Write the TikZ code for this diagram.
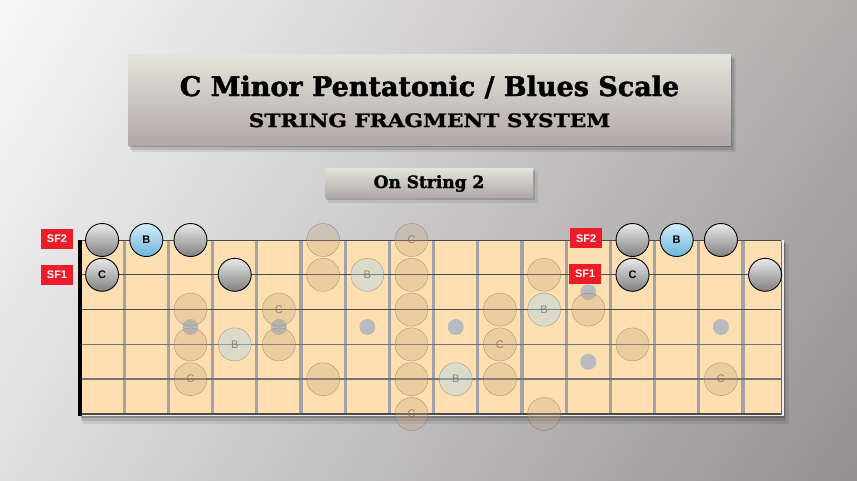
\documentclass[tikz,border=0pt]{standalone}
\usepackage{fontspec}
\setmainfont{DejaVu Serif}
\newfontfamily\headfont[FakeBold=1.6]{DejaVu Serif}
\newfontfamily\widefont[FakeStretch=1.17, FakeBold=1.4]{DejaVu Serif}
\newfontfamily\notefont{Liberation Sans}
\usetikzlibrary{shadings}

\definecolor{bgul}{RGB}{248,248,248}
\definecolor{bgur}{RGB}{177,173,173}
\definecolor{bgll}{RGB}{223,223,223}
\definecolor{bglr}{RGB}{148,144,145}
\definecolor{wood}{RGB}{254,223,177}
\definecolor{fretgray}{RGB}{163,163,167}
\definecolor{strdark}{RGB}{75,75,75}
\definecolor{strlight}{RGB}{115,115,115}
\definecolor{tagred}{RGB}{236,28,40}
\definecolor{boxtop}{RGB}{227,229,217}
\definecolor{boxbot}{RGB}{178,167,169}
\definecolor{ghostfill}{RGB}{196,164,124}
\definecolor{ghostline}{RGB}{110,95,80}
\definecolor{ghosttext}{RGB}{120,110,100}
\definecolor{ghostblue}{RGB}{170,215,240}
\definecolor{dotgray}{RGB}{184,186,190}
\definecolor{balltop}{RGB}{234,234,234}
\definecolor{ballbot}{RGB}{128,128,128}
\definecolor{bluetop}{RGB}{212,238,250}
\definecolor{bluebot}{RGB}{108,180,218}

\tikzset{
  note/.style={circle, minimum size=33pt, inner sep=0pt, draw=black, line width=0.9pt,
    top color=balltop, bottom color=ballbot, font=\notefont\bfseries\fontsize{11}{11}\selectfont},
  bluenote/.style={note, top color=bluetop, bottom color=bluebot},
  ghost/.style={circle, minimum size=33pt, inner sep=0pt, draw=ghostline, draw opacity=.55,
    fill=ghostfill, fill opacity=.3, text opacity=.8, text=ghosttext,
    font=\notefont\fontsize{11}{11}\selectfont},
  ghostb/.style={ghost, fill=ghostblue, fill opacity=.4},
  inlay/.style={circle, minimum size=16pt, inner sep=0pt, fill=dotgray},
  sftag/.style={fill=tagred, text=white, minimum width=32pt, minimum height=20pt, inner sep=0pt,
    font=\notefont\bfseries\fontsize{11}{11}\selectfont},
  fret/.style={fretgray, line width=3.3pt},
  headbox/.style={top color=boxtop, bottom color=boxbot}
}

\begin{document}
\begin{tikzpicture}[x=1pt, y=-1pt]
  % background
  \shade[upper left=bgul, upper right=bgur, lower left=bgll, lower right=bglr]
    (0,0) rectangle (857,480);
  \useasboundingbox (0,0) rectangle (857,480);

  % title
  \fill[black, opacity=.08] (132,59) rectangle (736,152);
  \fill[black, opacity=.12] (130,57) rectangle (734,150);
  \fill[black, opacity=.2] (129,56) rectangle (732,147);
  \shade[headbox] (128,54) rectangle (731,145);
  \node[anchor=base, font=\headfont\bfseries\fontsize{27}{27}\selectfont] (title) at (429.5,96) {C Minor Pentatonic / Blues Scale};
  \node[anchor=base, font=\widefont\bfseries\fontsize{18.5}{18.5}\selectfont] (system) at (429.5,127) {STRING FRAGMENT SYSTEM};

  % subtitle
  \fill[black, opacity=.08] (328,172) rectangle (538,203);
  \fill[black, opacity=.15] (326,170) rectangle (535,200);
  \shade[headbox] (325,168) rectangle (533,197);
  \node[anchor=base, font=\headfont\bfseries\fontsize{17}{17}\selectfont] (onstring) at (429,188) {On String 2};

  \begin{scope}[shift={(80,240)}, x=44.2pt, y=-34.8pt]
    % board and shadow
    \fill[black, opacity=.08] (0.05,0.12) rectangle (16.03,5.3);
    \fill[black, opacity=.12] (0.03,0.08) rectangle (15.98,5.2);
    \fill[black, opacity=.2] (0.02,0.05) rectangle (15.94,5.11);
    \fill[wood] (0,0) rectangle (15.86,5);
    \draw[white!85!gray, line width=1.5pt] (0,5.05) -- (15.9,5.05) -- (15.9,0);

    % frets
    \draw[fret] (1,0) -- (1,5);
    \draw[fret] (2,0) -- (2,5);
    \draw[fret] (3,0) -- (3,5);
    \draw[fret] (4,0) -- (4,5);
    \draw[fret] (5,0) -- (5,5);
    \draw[fret] (6,0) -- (6,5);
    \draw[fret] (7,0) -- (7,5);
    \draw[fret] (8,0) -- (8,5);
    \draw[fret] (9,0) -- (9,5);
    \draw[fret] (10,0) -- (10,5);
    \draw[fret] (11,0) -- (11,5);
    \draw[fret] (12,0) -- (12,5);
    \draw[fret] (13,0) -- (13,5);
    \draw[fret] (14,0) -- (14,5);
    \draw[fret] (15,0) -- (15,5);

    % strings
    \draw[strdark, line width=0.9pt] (0,0) -- (15.86,0);
    \draw[strdark, line width=1pt] (0,1) -- (15.86,1);
    \draw[strdark, line width=1.3pt] (0,2) -- (15.86,2);
    \draw[strlight, line width=1.8pt] (0,3) -- (15.86,3);
    \draw[strlight, line width=2pt] (0,4) -- (15.86,4);
    \draw[strdark, line width=1.4pt] (0,5) -- (15.86,5);
    \draw[black, line width=4pt] (0,0) -- (0,5.05);

    % inlays
    \node[inlay] (dot3) at (2.5,2.5) {};
    \node[inlay] (dot5) at (4.5,2.5) {};
    \node[inlay] (dot7) at (6.5,2.5) {};
    \node[inlay] (dot9) at (8.5,2.5) {};
    \node[inlay] (dot12a) at (11.5,1.5) {};
    \node[inlay] (dot12b) at (11.5,3.5) {};
    \node[inlay] (dot15) at (14.5,2.5) {};

    % other positions
    \node[ghost] (s1f6) at (5.5,0) {};
    \node[ghost] (s1f8) at (7.5,0) {C};
    \node[ghost] (s2f6) at (5.5,1) {};
    \node[ghostb] (s2f7) at (6.5,1) {B};
    \node[ghost] (s2f8) at (7.5,1) {};
    \node[ghost] (s2f11) at (10.5,1) {};
    \node[ghost] (s3f3) at (2.5,2) {};
    \node[ghost] (s3f5) at (4.5,2) {C};
    \node[ghost] (s3f8) at (7.5,2) {};
    \node[ghost] (s3f10) at (9.5,2) {};
    \node[ghostb] (s3f11) at (10.5,2) {B};
    \node[ghost] (s3f12) at (11.5,2) {};
    \node[ghost] (s4f3) at (2.5,3) {};
    \node[ghostb] (s4f4) at (3.5,3) {B};
    \node[ghost] (s4f5) at (4.5,3) {};
    \node[ghost] (s4f8) at (7.5,3) {};
    \node[ghost] (s4f10) at (9.5,3) {C};
    \node[ghost] (s4f13) at (12.5,3) {};
    \node[ghost] (s5f3) at (2.5,4) {C};
    \node[ghost] (s5f6) at (5.5,4) {};
    \node[ghost] (s5f8) at (7.5,4) {};
    \node[ghostb] (s5f9) at (8.5,4) {B};
    \node[ghost] (s5f10) at (9.5,4) {};
    \node[ghost] (s5f15) at (14.5,4) {C};
    \node[ghost] (s6f8) at (7.5,5) {C};
    \node[ghost] (s6f11) at (10.5,5) {};

    % string fragments
    \node[note] (s1f1) at (0.5,0) {};
    \node[bluenote] (s1f2) at (1.5,0) {B};
    \node[note] (s1f3) at (2.5,0) {};
    \node[note] (s2f1) at (0.5,1) {C};
    \node[note] (s2f4) at (3.5,1) {};
    \node[note] (s1f13) at (12.5,0) {};
    \node[bluenote] (s1f14) at (13.5,0) {B};
    \node[note] (s1f15) at (14.5,0) {};
    \node[note] (s2f13) at (12.5,1) {C};
    \node[note] (s2f16) at (15.5,1) {};

    \node[sftag] (sf2left) at (-0.52,-0.03) {SF2};
    \node[sftag] (sf1left) at (-0.52,1) {SF1};
    \node[sftag] (sf2right) at (11.45,-0.05) {SF2};
    \node[sftag] (sf1right) at (11.43,0.98) {SF1};
  \end{scope}
\end{tikzpicture}
\end{document}
